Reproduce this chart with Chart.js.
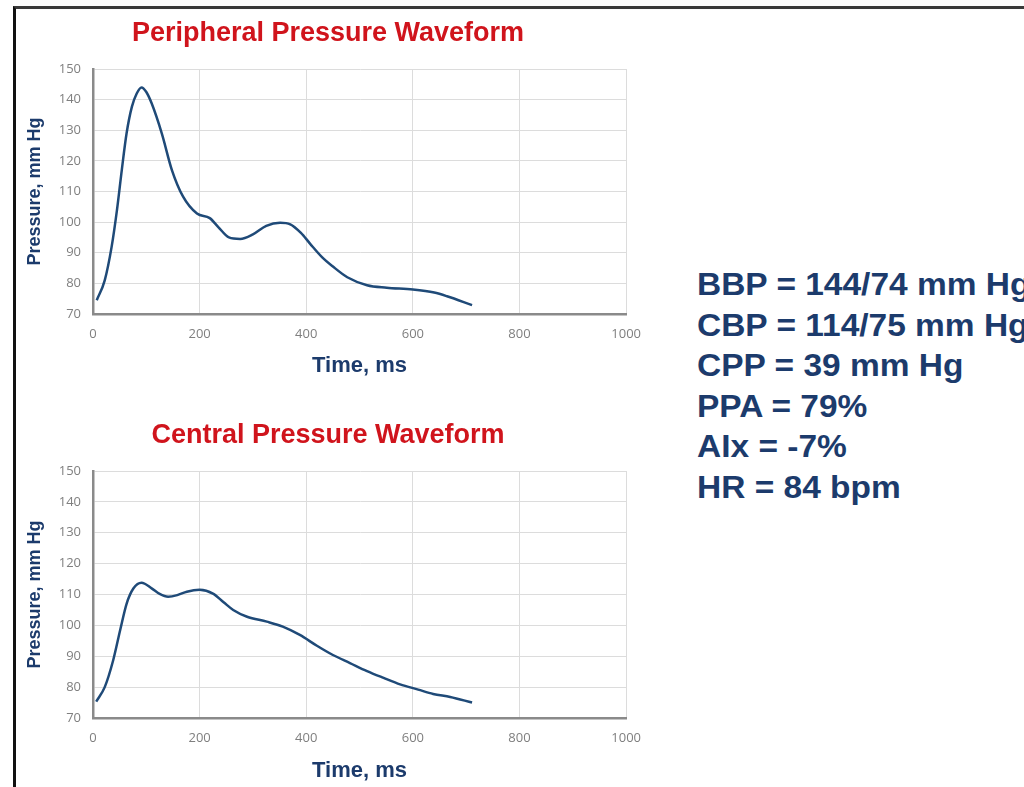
<!DOCTYPE html>
<html>
<head>
<meta charset="utf-8">
<script src="https://cdn.jsdelivr.net/npm/chart.js@4.4.0/dist/chart.umd.min.js"></script>
<style>
  body { margin: 0; width: 1024px; height: 787px; background: #fff; overflow: hidden; position: relative;
         font-family: "Liberation Sans", Arial, sans-serif; }
  #frame { position: absolute; left: 13px; top: 6px; right: -5px; bottom: -5px;
           border-left: 3px solid #111; border-top: 3px solid #3a3a3a; }
  canvas { position: absolute; left: 3px; }
  #c1 { top: 10px; }
  #c2 { top: 395px; }
  #stats { position: absolute; left: 697px; top: 265px; color: #1c3b6c; font-weight: bold;
           font-size: 31px; line-height: 40.5px; white-space: nowrap;
           transform: scaleX(1.08); transform-origin: left top; }
</style>
</head>
<body>
<div id="frame"></div>
<canvas id="c1" width="650" height="380"></canvas>
<canvas id="c2" width="650" height="392"></canvas>
<div id="stats">
  <div>BBP = 144/74 mm Hg</div>
  <div>CBP = 114/75 mm Hg</div>
  <div>CPP = 39 mm Hg</div>
  <div>PPA = 79%</div>
  <div>AIx = -7%</div>
  <div>HR = 84 bpm</div>
</div>
<script>
// waveform samples (time in ms, pressure in mm Hg)
const periphTime = [7, 22, 35, 45, 54, 63, 73, 82, 91, 100, 110, 129, 148, 169, 195, 219, 235,
  255, 276, 300, 325, 351, 370, 390, 407, 430, 450, 477, 514, 551, 600, 640, 664, 711];
const periphPressure = [74.5, 81, 92, 104, 117, 129, 137.7, 142, 144, 142.5, 138.8, 129, 117, 108.3, 102.8, 101.3, 98.4,
  95, 94.5, 96, 98.8, 99.8, 99.3, 96.5, 93, 88.5, 85.5, 82, 79.4, 78.6, 78, 77, 75.8, 72.9];

const centralTime = [6, 22, 38, 51, 63, 76, 91, 110, 125, 141, 158, 176, 200, 225, 245, 263, 289, 326, 356,
  388, 420, 450, 482, 514, 545, 576, 610, 638, 670, 711];
const centralPressure = [75.3, 80, 88.8, 98.5, 107, 112, 113.8, 112, 110.2, 109.3, 109.8, 110.9, 111.5, 110.3, 107.5, 105, 102.8, 101.2, 99.6,
  96.9, 93.4, 90.4, 87.8, 85.2, 83, 80.9, 79.2, 77.8, 76.8, 75];

const xMin = 0, xMax = 1000, xStep = 200;
const yMin = 70, yMax = 150, yStep = 10;

const navy = '#1c3b6c';
const lineColor = '#1f4a78';

function makeChart(id, title, times, values, lay) {
  const ctx = document.getElementById(id).getContext('2d');
  return new Chart(ctx, {
    type: 'line',
    data: {
      datasets: [{
        data: times.map((t, i) => ({ x: t, y: values[i] })),
        borderColor: lineColor,
        borderWidth: 2.5,
        pointRadius: 0,
        cubicInterpolationMode: 'monotone',
        fill: false
      }]
    },
    options: {
      responsive: false,
      animation: false,
      layout: { padding: 0 },
      plugins: {
        legend: { display: false },
        tooltip: { enabled: false },
        title: {
          display: true,
          text: title,
          color: '#d0141c',
          font: { family: 'Liberation Sans', size: 27, weight: 'bold' },
          padding: { top: lay.titleTop, bottom: lay.titleBottom }
        }
      },
      scales: {
        x: {
          type: 'linear', min: xMin, max: xMax,
          afterFit: s => { s.height = lay.xHeight; },
          ticks: { stepSize: xStep, color: '#7f7f7f', padding: 12, font: { family: 'Open Sans', size: 13 },
                   callback: v => String(v) },
          grid: { color: '#dcdcdc', lineWidth: 1, drawTicks: false },
          border: { color: '#8a8a8a', width: 2.5 },
          title: { display: true, text: 'Time, ms', color: navy,
                   font: { family: 'Liberation Sans', size: 22, weight: 'bold' },
                   padding: { top: 0, bottom: lay.xTitlePad } }
        },
        y: {
          min: yMin, max: yMax,
          afterFit: s => { s.width = 90; },
          ticks: { stepSize: yStep, color: '#7f7f7f', padding: 12, font: { family: 'Open Sans', size: 13 } },
          grid: { color: '#dcdcdc', lineWidth: 1, drawTicks: false },
          border: { color: '#8a8a8a', width: 2.5 },
          title: { display: true, text: 'Pressure, mm Hg', color: navy,
                   font: { family: 'Liberation Sans', size: 18, weight: 'bold' },
                   padding: { top: 21, bottom: 0 } }
        }
      }
    }
  });
}

makeChart('c1', 'Peripheral Pressure Waveform', periphTime, periphPressure,
  { titleTop: 7.8, titleBottom: 18.8, xHeight: 76, xTitlePad: 10.8 });
makeChart('c2', 'Central Pressure Waveform', centralTime, centralPressure,
  { titleTop: 24.8, titleBottom: 18.8, xHeight: 69, xTitlePad: 2.8 });
</script>
</body>
</html>
